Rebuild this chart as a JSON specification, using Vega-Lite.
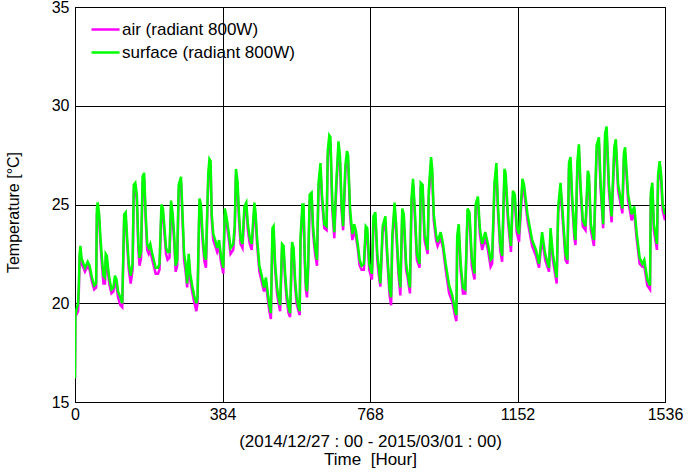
{
  "$schema": "https://vega.github.io/schema/vega-lite/v6.json",
  "width": 590,
  "height": 395,
  "autosize": {"type": "none"},
  "padding": {"left": 75, "top": 7, "right": 25, "bottom": 73},
  "background": "white",
  "config": {
    "font": "Liberation Sans",
    "view": {"stroke": "black", "strokeWidth": 1},
    "axis": {
      "grid": true, "gridColor": "black", "gridOpacity": 1, "gridWidth": 1,
      "ticks": false, "domainColor": "black", "domainWidth": 1,
      "labelColor": "black", "labelFontSize": 16, "titleColor": "black",
      "titleFontSize": 16, "titleFontWeight": "normal"
    }
  },
  "data": {"values": [
    {"t":0,"s":16.2,"a":16.2},{"t":1,"s":19.4,"a":19.3},{"t":3,"s":19.6,"a":19.4},{"t":8,"s":20.0,"a":19.6},
    {"t":10,"s":20.9,"a":20.6},{"t":12,"s":22.5,"a":22.2},{"t":14,"s":22.9,"a":22.6},{"t":17,"s":22.3,"a":22.0},
    {"t":22,"s":22.0,"a":21.8},{"t":26,"s":21.8,"a":21.6},{"t":33,"s":22.1,"a":21.9},{"t":38,"s":21.9,"a":21.7},
    {"t":44,"s":21.3,"a":21.1},{"t":50,"s":20.9,"a":20.7},{"t":55,"s":21.0,"a":20.8},{"t":57,"s":24.8,"a":24.5},
    {"t":59,"s":25.1,"a":24.8},{"t":63,"s":24.5,"a":24.2},{"t":66,"s":23.4,"a":23.1},{"t":70,"s":22.3,"a":22.0},
    {"t":74,"s":21.4,"a":21.0},{"t":78,"s":21.3,"a":21.0},{"t":80,"s":22.5,"a":22.2},{"t":83,"s":22.4,"a":22.1},
    {"t":86,"s":21.8,"a":21.5},{"t":90,"s":21.2,"a":20.9},{"t":95,"s":20.7,"a":20.5},{"t":100,"s":20.8,"a":20.6},
    {"t":104,"s":21.4,"a":21.1},{"t":108,"s":21.2,"a":20.9},{"t":112,"s":20.6,"a":20.3},{"t":118,"s":20.3,"a":19.9},
    {"t":123,"s":20.0,"a":19.8},{"t":128,"s":24.5,"a":24.2},{"t":132,"s":24.6,"a":24.3},{"t":136,"s":23.2,"a":22.9},
    {"t":140,"s":22.0,"a":21.7},{"t":145,"s":21.4,"a":21.0},{"t":150,"s":22.0,"a":21.7},{"t":153,"s":26.0,"a":25.7},
    {"t":157,"s":26.1,"a":25.8},{"t":161,"s":25.5,"a":25.2},{"t":165,"s":23.0,"a":22.7},{"t":168,"s":22.3,"a":21.9},
    {"t":172,"s":22.6,"a":22.3},{"t":176,"s":26.4,"a":26.1},{"t":180,"s":26.6,"a":26.3},{"t":184,"s":24.5,"a":24.2},
    {"t":188,"s":23.0,"a":22.7},{"t":192,"s":22.8,"a":22.5},{"t":196,"s":23.0,"a":22.7},{"t":200,"s":22.6,"a":22.3},
    {"t":205,"s":22.2,"a":21.9},{"t":210,"s":21.8,"a":21.5},{"t":216,"s":21.8,"a":21.5},{"t":220,"s":22.0,"a":21.7},
    {"t":225,"s":25.0,"a":24.7},{"t":229,"s":24.8,"a":24.5},{"t":233,"s":23.8,"a":23.5},{"t":237,"s":22.8,"a":22.5},
    {"t":241,"s":22.6,"a":22.2},{"t":246,"s":22.6,"a":22.3},{"t":250,"s":25.2,"a":24.9},{"t":254,"s":24.6,"a":24.3},
    {"t":258,"s":23.5,"a":23.2},{"t":262,"s":21.9,"a":21.6},{"t":266,"s":22.2,"a":21.9},{"t":270,"s":26.0,"a":25.7},
    {"t":276,"s":26.4,"a":26.1},{"t":281,"s":24.0,"a":23.7},{"t":284,"s":22.5,"a":22.2},{"t":288,"s":22.0,"a":21.6},
    {"t":292,"s":21.0,"a":20.8},{"t":296,"s":22.5,"a":22.2},{"t":300,"s":21.5,"a":21.2},{"t":305,"s":20.9,"a":20.6},
    {"t":310,"s":20.4,"a":20.1},{"t":316,"s":20.0,"a":19.6},{"t":319,"s":20.3,"a":20.0},{"t":321,"s":22.5,"a":22.2},
    {"t":324,"s":25.3,"a":25.0},{"t":328,"s":25.0,"a":24.7},{"t":332,"s":23.5,"a":23.2},{"t":337,"s":22.4,"a":22.1},
    {"t":341,"s":22.2,"a":21.8},{"t":344,"s":24.5,"a":24.2},{"t":347,"s":26.6,"a":26.3},{"t":350,"s":27.3,"a":27.0},
    {"t":353,"s":27.2,"a":26.9},{"t":356,"s":24.5,"a":24.2},{"t":360,"s":23.5,"a":23.2},{"t":365,"s":23.2,"a":22.9},
    {"t":370,"s":22.8,"a":22.6},{"t":375,"s":23.2,"a":22.9},{"t":380,"s":22.4,"a":22.1},{"t":386,"s":21.8,"a":21.5},
    {"t":390,"s":24.8,"a":24.5},{"t":395,"s":24.3,"a":24.0},{"t":400,"s":23.6,"a":23.3},{"t":405,"s":22.8,"a":22.5},
    {"t":412,"s":23.0,"a":22.7},{"t":416,"s":24.0,"a":23.7},{"t":419,"s":26.8,"a":26.5},{"t":423,"s":26.2,"a":25.9},
    {"t":427,"s":24.5,"a":24.2},{"t":431,"s":23.3,"a":23.0},{"t":436,"s":23.0,"a":22.8},{"t":441,"s":24.9,"a":24.6},
    {"t":446,"s":25.1,"a":24.8},{"t":450,"s":24.0,"a":23.7},{"t":455,"s":23.3,"a":23.0},{"t":460,"s":23.0,"a":22.7},
    {"t":467,"s":25.1,"a":24.8},{"t":470,"s":24.6,"a":24.3},{"t":474,"s":23.3,"a":23.0},{"t":480,"s":21.9,"a":21.6},
    {"t":486,"s":21.4,"a":21.1},{"t":492,"s":20.8,"a":20.6},{"t":497,"s":21.3,"a":21.0},{"t":502,"s":20.5,"a":20.2},
    {"t":506,"s":19.9,"a":19.6},{"t":510,"s":19.5,"a":19.2},{"t":514,"s":23.8,"a":23.5},{"t":517,"s":23.9,"a":23.6},
    {"t":521,"s":22.0,"a":21.7},{"t":526,"s":20.8,"a":20.5},{"t":530,"s":20.3,"a":20.0},{"t":534,"s":19.9,"a":19.6},
    {"t":539,"s":23.0,"a":22.7},{"t":543,"s":22.9,"a":22.6},{"t":547,"s":21.5,"a":21.2},{"t":551,"s":20.5,"a":20.2},
    {"t":556,"s":19.8,"a":19.5},{"t":560,"s":19.5,"a":19.3},{"t":565,"s":23.1,"a":22.8},{"t":569,"s":22.8,"a":22.5},
    {"t":573,"s":21.2,"a":20.9},{"t":577,"s":20.3,"a":20.0},{"t":582,"s":19.8,"a":19.6},{"t":585,"s":19.6,"a":19.4},
    {"t":587,"s":23.3,"a":23.0},{"t":592,"s":25.0,"a":24.7},{"t":595,"s":25.0,"a":24.7},{"t":598,"s":22.5,"a":22.2},
    {"t":601,"s":21.0,"a":20.7},{"t":604,"s":20.6,"a":20.3},{"t":607,"s":22.0,"a":21.7},{"t":611,"s":25.5,"a":25.2},
    {"t":616,"s":25.6,"a":25.3},{"t":620,"s":23.8,"a":23.5},{"t":625,"s":22.8,"a":22.5},{"t":630,"s":22.2,"a":21.9},
    {"t":634,"s":26.1,"a":25.8},{"t":639,"s":27.1,"a":26.8},{"t":643,"s":25.5,"a":25.2},{"t":649,"s":24.0,"a":23.8},
    {"t":655,"s":23.9,"a":23.7},{"t":658,"s":27.7,"a":27.4},{"t":662,"s":28.5,"a":28.2},{"t":665,"s":28.4,"a":28.1},
    {"t":670,"s":25.0,"a":24.7},{"t":675,"s":23.6,"a":23.3},{"t":680,"s":26.0,"a":25.7},{"t":686,"s":28.2,"a":27.9},
    {"t":690,"s":27.4,"a":27.1},{"t":694,"s":25.0,"a":24.7},{"t":698,"s":23.9,"a":23.7},{"t":704,"s":27.0,"a":26.7},
    {"t":708,"s":27.7,"a":27.4},{"t":711,"s":27.5,"a":27.2},{"t":716,"s":24.8,"a":24.5},{"t":722,"s":23.5,"a":23.2},
    {"t":727,"s":24.0,"a":23.7},{"t":731,"s":23.7,"a":23.4},{"t":736,"s":23.0,"a":22.8},{"t":741,"s":22.2,"a":21.9},
    {"t":746,"s":21.9,"a":21.7},{"t":752,"s":22.0,"a":21.7},{"t":757,"s":23.9,"a":23.6},{"t":761,"s":23.8,"a":23.5},
    {"t":766,"s":22.0,"a":21.7},{"t":773,"s":21.5,"a":21.2},{"t":777,"s":24.4,"a":24.1},{"t":782,"s":24.6,"a":24.3},
    {"t":787,"s":22.5,"a":22.2},{"t":791,"s":21.8,"a":21.4},{"t":795,"s":21.0,"a":20.85},{"t":801,"s":23.9,"a":23.6},
    {"t":808,"s":24.4,"a":24.1},{"t":813,"s":22.5,"a":22.2},{"t":819,"s":20.7,"a":20.4},{"t":823,"s":20.3,"a":19.9},
    {"t":826,"s":23.4,"a":23.1},{"t":832,"s":25.1,"a":24.8},{"t":836,"s":24.0,"a":23.7},{"t":842,"s":21.8,"a":21.5},
    {"t":847,"s":20.8,"a":20.4},{"t":852,"s":24.8,"a":24.5},{"t":856,"s":24.5,"a":24.2},{"t":862,"s":22.0,"a":21.7},
    {"t":866,"s":21.5,"a":21.3},{"t":872,"s":20.8,"a":20.5},{"t":876,"s":25.3,"a":25.0},{"t":880,"s":26.3,"a":26.0},
    {"t":884,"s":25.0,"a":24.7},{"t":890,"s":22.5,"a":22.2},{"t":897,"s":22.0,"a":21.8},{"t":900,"s":26.1,"a":25.8},
    {"t":905,"s":26.0,"a":25.7},{"t":910,"s":23.5,"a":23.2},{"t":918,"s":22.7,"a":22.5},{"t":921,"s":25.7,"a":25.4},
    {"t":927,"s":27.4,"a":27.1},{"t":930,"s":26.8,"a":26.5},{"t":934,"s":24.5,"a":24.2},{"t":940,"s":23.5,"a":23.2},
    {"t":944,"s":23.1,"a":22.9},{"t":952,"s":23.6,"a":23.3},{"t":958,"s":23.0,"a":22.8},{"t":965,"s":22.0,"a":21.7},
    {"t":974,"s":20.9,"a":20.5},{"t":982,"s":20.4,"a":20.1},{"t":990,"s":19.6,"a":19.3},{"t":993,"s":19.4,"a":19.1},
    {"t":995,"s":23.4,"a":23.1},{"t":999,"s":24.0,"a":23.7},{"t":1004,"s":22.0,"a":21.7},{"t":1010,"s":20.8,"a":20.5},
    {"t":1016,"s":20.7,"a":20.5},{"t":1022,"s":24.8,"a":24.5},{"t":1027,"s":24.6,"a":24.3},{"t":1033,"s":22.3,"a":21.9},
    {"t":1040,"s":21.5,"a":21.2},{"t":1043,"s":25.0,"a":24.7},{"t":1049,"s":25.4,"a":25.1},{"t":1054,"s":23.8,"a":23.5},
    {"t":1060,"s":23.0,"a":22.7},{"t":1068,"s":23.6,"a":23.3},{"t":1075,"s":23.0,"a":22.7},{"t":1082,"s":22.2,"a":21.85},
    {"t":1086,"s":22.3,"a":22.0},{"t":1092,"s":26.1,"a":25.8},{"t":1097,"s":27.1,"a":26.8},{"t":1101,"s":25.0,"a":24.7},
    {"t":1107,"s":23.0,"a":22.7},{"t":1112,"s":22.4,"a":22.1},{"t":1118,"s":26.8,"a":26.5},{"t":1121,"s":26.6,"a":26.3},
    {"t":1127,"s":24.5,"a":24.2},{"t":1135,"s":22.9,"a":22.6},{"t":1140,"s":25.7,"a":25.4},{"t":1145,"s":25.5,"a":25.2},
    {"t":1150,"s":23.9,"a":23.6},{"t":1156,"s":23.5,"a":23.1},{"t":1165,"s":26.3,"a":26.0},{"t":1169,"s":26.0,"a":25.7},
    {"t":1178,"s":24.5,"a":24.2},{"t":1190,"s":23.2,"a":22.9},{"t":1200,"s":22.7,"a":22.4},{"t":1208,"s":22.0,"a":21.8},
    {"t":1216,"s":23.6,"a":23.3},{"t":1224,"s":22.5,"a":22.2},{"t":1234,"s":21.8,"a":21.6},{"t":1238,"s":23.8,"a":23.5},
    {"t":1244,"s":22.5,"a":22.2},{"t":1254,"s":21.3,"a":21.0},{"t":1258,"s":24.9,"a":24.6},{"t":1264,"s":26.1,"a":25.8},
    {"t":1268,"s":25.0,"a":24.7},{"t":1277,"s":22.5,"a":22.2},{"t":1282,"s":22.2,"a":22.0},{"t":1286,"s":27.1,"a":26.8},
    {"t":1290,"s":27.4,"a":27.1},{"t":1294,"s":25.5,"a":25.2},{"t":1300,"s":23.6,"a":23.3},{"t":1303,"s":23.2,"a":22.95},
    {"t":1308,"s":27.2,"a":26.9},{"t":1312,"s":28.05,"a":27.7},{"t":1316,"s":26.0,"a":25.7},{"t":1322,"s":24.2,"a":23.9},
    {"t":1329,"s":23.9,"a":23.7},{"t":1335,"s":26.7,"a":26.4},{"t":1338,"s":26.5,"a":26.2},{"t":1343,"s":24.0,"a":23.7},
    {"t":1351,"s":23.2,"a":22.9},{"t":1358,"s":28.0,"a":27.7},{"t":1364,"s":28.4,"a":28.1},{"t":1368,"s":26.2,"a":25.9},
    {"t":1375,"s":24.0,"a":23.8},{"t":1380,"s":28.6,"a":28.3},{"t":1384,"s":28.95,"a":28.6},{"t":1390,"s":26.0,"a":25.7},
    {"t":1397,"s":24.4,"a":24.1},{"t":1404,"s":27.9,"a":27.6},{"t":1408,"s":28.3,"a":28.0},{"t":1414,"s":26.0,"a":25.7},
    {"t":1425,"s":24.8,"a":24.55},{"t":1429,"s":27.6,"a":27.3},{"t":1432,"s":27.9,"a":27.6},{"t":1440,"s":25.5,"a":25.2},
    {"t":1449,"s":24.5,"a":24.2},{"t":1456,"s":24.9,"a":24.6},{"t":1462,"s":23.6,"a":23.3},{"t":1470,"s":22.3,"a":22.0},
    {"t":1477,"s":22.0,"a":21.85},{"t":1482,"s":22.2,"a":21.9},{"t":1490,"s":21.2,"a":20.9},{"t":1497,"s":20.9,"a":20.7},
    {"t":1499,"s":25.6,"a":25.3},{"t":1503,"s":26.1,"a":25.8},{"t":1507,"s":24.0,"a":23.7},{"t":1515,"s":23.0,"a":22.7},
    {"t":1518,"s":26.5,"a":26.2},{"t":1522,"s":27.2,"a":26.9},{"t":1526,"s":26.5,"a":26.2},{"t":1530,"s":25.0,"a":24.7},
    {"t":1536,"s":24.5,"a":24.2}
  ]},
  "transform": [{"fold": ["a", "s"], "as": ["k", "v"]}],
  "mark": {"type": "line", "strokeWidth": 2.5, "clip": true},
  "encoding": {
    "x": {
      "field": "t", "type": "quantitative",
      "scale": {"domain": [0, 1536], "nice": false, "zero": false},
      "axis": {
        "values": [0, 384, 768, 1152, 1536], "format": "d", "labelPadding": 4, "labelFlush": false,
        "title": ["(2014/12/27 : 00 - 2015/03/01 : 00)", "Time \u00a0[Hour]"],
        "titleFontSize": 17, "titleLineHeight": 18, "titlePadding": 11
      }
    },
    "y": {
      "field": "v", "type": "quantitative",
      "scale": {"domain": [15, 35], "nice": false, "zero": false},
      "axis": {
        "values": [15, 20, 25, 30, 35], "labelPadding": 6, "labelFlush": false,
        "title": "Temperature [°C]", "titlePadding": 30, "titleY": 205
      }
    },
    "color": {
      "field": "k", "type": "nominal",
      "scale": {"domain": ["a", "s"], "range": ["#FF00FF", "#00FF00"]},
      "legend": {
        "title": null, "orient": "none", "legendX": 22, "legendY": 14,
        "labelExpr": "datum.value == 'a' ? 'air (radiant 800W)' : 'surface (radiant 800W)'",
        "labelFontSize": 17, "labelColor": "black", "labelOffset": 8, "labelLimit": 400,
        "symbolType": "M-2.8,0L2.8,0", "symbolSize": 100, "symbolStrokeWidth": 2.5,
        "rowPadding": 5, "padding": 0
      }
    }
  }
}
